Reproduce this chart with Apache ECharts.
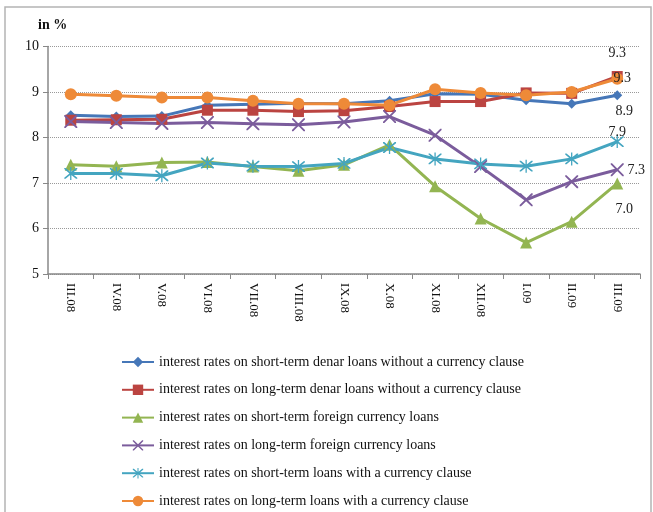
<!DOCTYPE html>
<html>
<head>
<meta charset="utf-8">
<script src="https://cdn.jsdelivr.net/npm/echarts@6/dist/echarts.min.js"></script>
<style>
  html, body { margin: 0; padding: 0; background: #ffffff; }
  #chart { width: 653px; height: 512px; }
</style>
</head>
<body>
<div id="chart"></div>
<script>
// Monthly categories (March 2008 – March 2009)
const months = ['III.08', 'IV.08', 'V.08', 'VI.08', 'VII.08', 'VIII.08', 'IX.08',
                'X.08', 'XI.08', 'XII.08', 'I.09', 'II.09', 'III.09'];

// Interest rates, in %
const shortDenar    = [8.49, 8.46, 8.47, 8.71, 8.73, 8.75, 8.74, 8.81, 8.96, 8.95, 8.82, 8.74, 8.93];
const longDenar     = [8.38, 8.39, 8.40, 8.60, 8.60, 8.57, 8.59, 8.68, 8.79, 8.79, 8.98, 8.97, 9.34];
const shortForeign  = [7.40, 7.37, 7.45, 7.46, 7.36, 7.27, 7.40, 7.84, 6.93, 6.22, 5.69, 6.15, 6.99];
const longForeign   = [8.35, 8.33, 8.31, 8.33, 8.30, 8.28, 8.34, 8.46, 8.05, 7.36, 6.63, 7.03, 7.29];
const shortClause   = [7.21, 7.21, 7.16, 7.44, 7.37, 7.36, 7.43, 7.78, 7.53, 7.42, 7.37, 7.53, 7.91];
const longClause    = [8.95, 8.92, 8.88, 8.88, 8.81, 8.74, 8.74, 8.71, 9.06, 8.98, 8.93, 9.00, 9.29];

const seriesNames = [
  'interest rates on short-term denar loans without a currency clause',
  'interest rates on long-term denar loans without a currency clause',
  'interest rates on short-term foreign currency loans',
  'interest rates on long-term foreign currency loans',
  'interest rates on short-term loans with a currency clause',
  'interest rates on long-term loans with a currency clause'
];

const yTicks = [5, 6, 7, 8, 9, 10];

const colors = ['#4677B8', '#BB4441', '#93B552', '#7B5C9C', '#44A5C0', '#EE8A38'];

// Marker shapes: an "x" cross and an asterisk drawn as filled outlines
const crossPath = 'path://M0,0 L2,0 L10,8 L18,0 L20,0 L20,2 L12,10 L20,18 L20,20 L18,20 L10,12 L2,20 L0,20 L0,18 L8,10 L0,2 Z';
const starPath = 'path://M0,0 L2,0 L10,8 L18,0 L20,0 L20,2 L12,10 L20,18 L20,20 L18,20 L10,12 L2,20 L0,20 L0,18 L8,10 L0,2 Z M9,-2 L11,-2 L11,22 L9,22 Z';

const symbols = ['diamond', 'rect', 'triangle', crossPath, starPath, 'circle'];
const symbolSizes = [10, 11, 12, 13, 13, 12];
// End-of-period value label offsets
const labelOffsets = [[7, 16], [0, -23], [7, 26], [19, 1], [0, -9], [5, 0]];

const allData = [shortDenar, longDenar, shortForeign, longForeign, shortClause, longClause];
const FONT = '"Liberation Serif", "Times New Roman", serif';

const series = allData.map((vals, i) => ({
  name: seriesNames[i],
  type: 'line',
  data: vals.map((v, j) => j === vals.length - 1 ? {
    value: v,
    label: {
      show: true,
      position: 'inside',
      offset: labelOffsets[i],
      formatter: p => p.value.toFixed(1),
      fontFamily: FONT,
      fontSize: 14,
      color: '#222'
    }
  } : v),
  symbol: symbols[i],
  symbolSize: symbolSizes[i],
  showAllSymbol: true,
  lineStyle: { width: 3, color: colors[i] },
  itemStyle: { color: colors[i] },
  emphasis: { disabled: true },
  animation: false
}));

const chart = echarts.init(document.getElementById('chart'), null, { renderer: 'canvas' });
chart.setOption({
  animation: false,
  color: colors,
  graphic: [
    {
      type: 'rect',
      shape: { x: 5, y: 7, width: 646, height: 510 },
      style: { fill: 'none', stroke: '#b4b4b4', lineWidth: 1.5 },
      silent: true
    },
    {
      type: 'text',
      left: 38, top: 18,
      style: { text: 'in %', fontFamily: FONT, fontSize: 14, fontWeight: 'bold', fill: '#111' }
    }
  ],
  grid: { left: 48, right: 13, top: 46.5, bottom: 238, containLabel: false },
  xAxis: {
    type: 'category',
    data: months,
    boundaryGap: true,
    axisLine: { lineStyle: { color: '#888', width: 1.5 } },
    axisTick: { show: true, alignWithLabel: false, length: 5, lineStyle: { color: '#888' } },
    axisLabel: {
      rotate: -90,
      interval: 0,
      margin: 9,
      fontFamily: FONT,
      fontSize: 13,
      color: '#111'
    },
    splitLine: { show: false }
  },
  yAxis: {
    type: 'value',
    min: yTicks[0],
    max: yTicks[yTicks.length - 1],
    interval: 1,
    axisLine: { show: true, lineStyle: { color: '#888', width: 1.5 } },
    axisTick: { show: true, length: 5, inside: false, lineStyle: { color: '#888' } },
    axisLabel: { fontFamily: FONT, fontSize: 14, color: '#111', margin: 9 },
    splitLine: { show: true, lineStyle: { color: '#999', type: 'dotted', width: 1 } }
  },
  legend: {
    orient: 'vertical',
    left: 116,
    top: 350,
    height: 240,
    itemWidth: 32,
    itemHeight: 13,
    itemGap: 13.8,
    textStyle: { fontFamily: FONT, fontSize: 14, color: '#111' },
    data: seriesNames,
    selectedMode: false
  },
  series: series
});
</script>
</body>
</html>
